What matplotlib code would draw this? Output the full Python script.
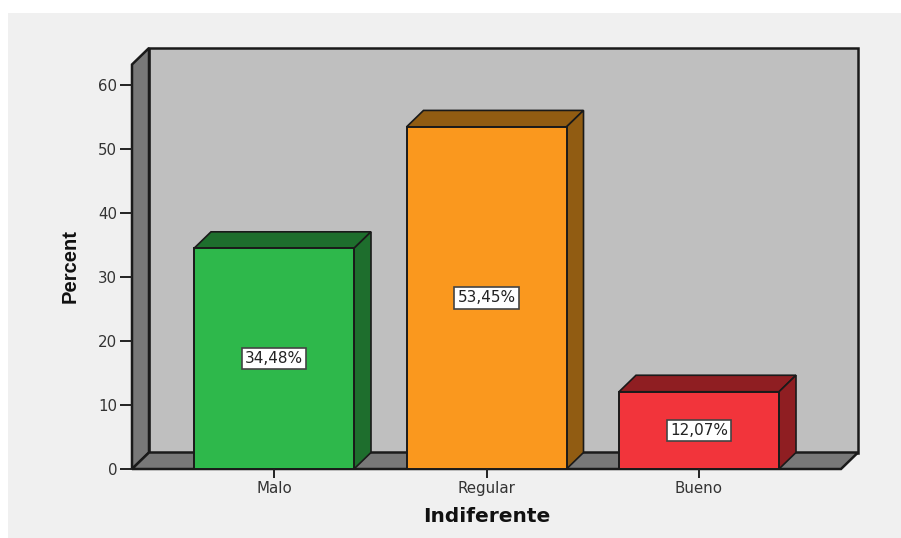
import matplotlib
matplotlib.use("Agg")
import matplotlib.pyplot as plt
from matplotlib.patches import Polygon, Rectangle

categories = ["Malo", "Regular", "Bueno"]
values = [34.48, 53.45, 12.07]
labels = ["34,48%", "53,45%", "12,07%"]
front_colors = ["#2eb84b", "#fa981e", "#f2343b"]
dark_colors = ["#1e6e2d", "#915c12", "#8f1e22"]
yticks = [0, 10, 20, 30, 40, 50, 60]

W, H = 901, 538
bg = "#f0f0f0"
edge = "#1a1a1a"

fig = plt.figure(figsize=(W / 100, H / 100), dpi=100, facecolor="white")
fig.add_artist(Rectangle((8 / W, 0), (W - 8) / W, (H - 13) / H, transform=fig.transFigure,
                         fc=bg, ec="none", zorder=-5))

# axes box runs from the front left corner to the back top right corner
ax = fig.add_axes([132 / W, (H - 469) / H, 726 / W, 421 / H])
ax.patch.set_visible(False)

per_cat = 212.5
per_unit = 6.4
ax.set_xlim(-142 / per_cat, 584 / per_cat)
ax.set_ylim(0, 421 / per_unit)
x0, x1 = ax.get_xlim()
y1 = ax.get_ylim()[1]
dx = 17 / per_cat
dy = 16.5 / per_unit
bw = 160 / per_cat

# walls
ax.add_patch(Polygon([(x0 + dx, dy), (x1, dy), (x1, y1), (x0 + dx, y1)],
                     fc="#bfbfbf", ec=edge, lw=1.8, zorder=1, clip_on=False))
ax.add_patch(Polygon([(x0, 0), (x0 + dx, dy), (x0 + dx, y1), (x0, y1 - dy)],
                     fc="#787878", ec=edge, lw=1.8, zorder=1, clip_on=False))
ax.add_patch(Polygon([(x0, 0), (x1 - dx, 0), (x1, dy), (x0 + dx, dy)],
                     fc="#787878", ec=edge, lw=1.8, zorder=1, clip_on=False))

# bars: front face plus top and side
xs = range(len(categories))
ax.bar(xs, values, width=bw, color=front_colors, edgecolor=edge, linewidth=1.4, zorder=3)
for i, v in enumerate(values):
    l, r = i - bw / 2, i + bw / 2
    ax.add_patch(Polygon([(l, v), (r, v), (r + dx, v + dy), (l + dx, v + dy)],
                         fc=dark_colors[i], ec=edge, lw=1.2, zorder=2.5, clip_on=False))
    ax.add_patch(Polygon([(r, 0), (r + dx, dy), (r + dx, v + dy), (r, v)],
                         fc=dark_colors[i], ec=edge, lw=1.2, zorder=2.5, clip_on=False))
    ax.text(i, v / 2, labels[i], ha="center", va="center", fontsize=11, color="#222222",
            family="DejaVu Sans", zorder=5,
            bbox=dict(boxstyle="square,pad=0.2", fc="white", ec="#444444", lw=1.2))

for s in ax.spines.values():
    s.set_visible(False)
ax.set_xticks(list(xs))
ax.set_xticklabels(categories, fontsize=10.8, color="#333333", family="DejaVu Sans")
ax.set_yticks(yticks)
ax.set_yticklabels([str(t) for t in yticks], fontsize=10.8, color="#333333", family="DejaVu Sans")
ax.tick_params(axis="x", length=6.5, width=1.4, color="#222222", pad=2)
ax.tick_params(axis="y", length=8.6, width=1.4, color="#222222", pad=2)

fig.text(486.5 / W, (H - 516) / H, "Indiferente", ha="center", va="center",
         fontsize=14.5, fontweight="bold", family="DejaVu Sans", color="#111111")
fig.text(70.5 / W, (H - 266) / H, "Percent", rotation=90, ha="center", va="center",
         fontsize=14.5, fontweight="bold", family="Liberation Sans", color="#111111")

fig.savefig("out.png", dpi=100)
